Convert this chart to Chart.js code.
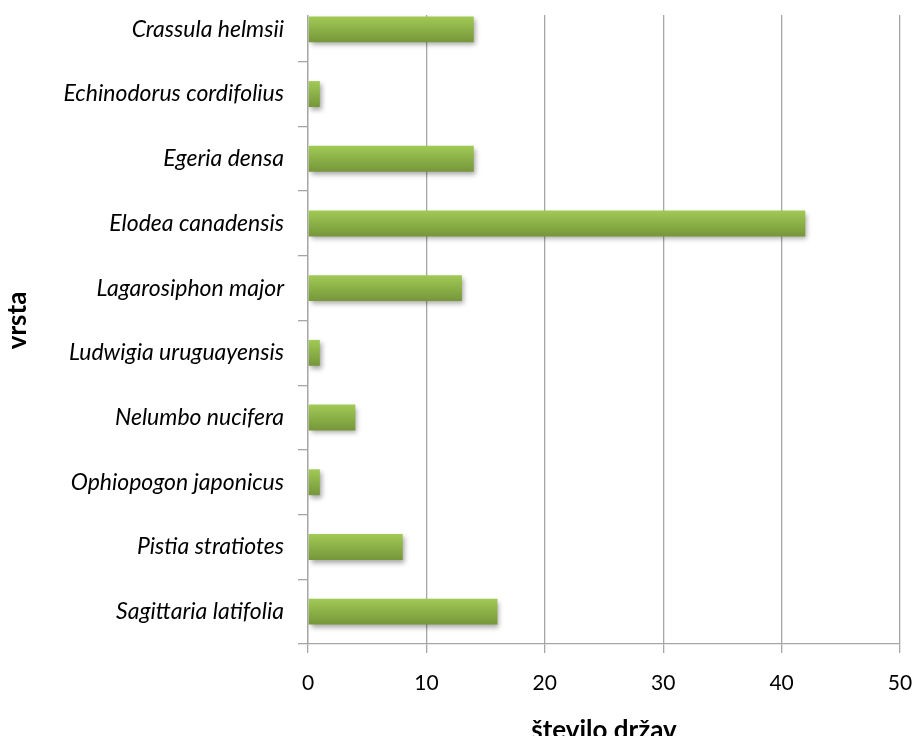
<!DOCTYPE html>
<html>
<head>
<meta charset="utf-8">
<script src="https://cdn.jsdelivr.net/npm/chart.js@4"></script>
<style>
  html, body { margin:0; padding:0; background:#fff; overflow:hidden; }
  #wrap { position:relative; width:914px; height:736px; overflow:hidden; }
  #box { position:absolute; left:0; top:-20px; width:914px; height:776px; }
</style>
</head>
<body>
<div id="wrap"><div id="box"><canvas id="c"></canvas></div></div>
<script>
const categories = [
  "Crassula helmsii", "Echinodorus cordifolius", "Egeria densa", "Elodea canadensis",
  "Lagarosiphon major", "Ludwigia uruguayensis", "Nelumbo nucifera", "Ophiopogon japonicus",
  "Pistia stratiotes", "Sagittaria latifolia"
];
const countries = [14, 1, 14, 42, 13, 1, 4, 1, 8, 16];
const xTicks = [0, 10, 20, 30, 40, 50];
const xTitle = "število držav";
const yTitle = "vrsta";

const FONT = "Lato, 'Open Sans', sans-serif";

const topCover = {
  id: 'topCover',
  beforeDatasetsDraw(chart) {
    const ctx = chart.ctx, a = chart.chartArea;
    ctx.save();
    ctx.fillStyle = '#fff';
    ctx.fillRect(a.left - 2, 0, a.right - a.left + 4, 35);
    ctx.restore();
    ctx.save();
    ctx.shadowColor = 'rgba(0,0,0,0.35)';
    ctx.shadowBlur = 5;
    ctx.shadowOffsetX = 2;
    ctx.shadowOffsetY = 3;
  },
  afterDatasetsDraw(chart) {
    chart.ctx.restore();
  }
};

new Chart(document.getElementById('c'), {
  type: 'bar',
  data: {
    labels: categories,
    datasets: [{
      data: countries,
      barPercentage: 0.4,
      categoryPercentage: 1.0,
      borderWidth: 0,
      backgroundColor: (c) => {
        const chart = c.chart, ys = chart.scales && chart.scales.y;
        if (!ys || c.type !== 'data' || !isFinite(ys.getPixelForValue(c.dataIndex))) return '#8cb446';
        const m = ys.getPixelForValue(c.dataIndex);
        const g = chart.ctx.createLinearGradient(0, m - 13, 0, m + 13);
        g.addColorStop(0, '#a1ca55');
        g.addColorStop(1, '#76963a');
        return g;
      }
    }]
  },
  options: {
    indexAxis: 'y',
    responsive: true,
    maintainAspectRatio: false,
    animation: false,
    layout: { padding: { top: 17, right: 14, left: 0, bottom: 0 } },
    plugins: { legend: { display: false }, tooltip: { enabled: false } },
    scales: {
      x: {
        min: 0, max: 50,
        afterBuildTicks: (s) => { s.ticks = xTicks.map(v => ({ value: v })); },
        afterFit: (s) => { s.height = 112; s.paddingLeft = 0; s.paddingRight = 0; },
        grid: { color: '#a6a6a6', lineWidth: 1.3, tickLength: 9, drawTicks: true },
        border: { color: '#a6a6a6', width: 1.3 },
        ticks: { color: '#000', padding: 18, font: { family: FONT, size: 21 } },
        title: {
          display: true, text: xTitle, color: '#000',
          padding: { top: 19, bottom: 10 },
          font: { family: FONT, size: 26, weight: 'bold' }
        }
      },
      y: {
        afterFit: (s) => { s.width = 308; s.paddingTop = 0; s.paddingBottom = 0; },
        grid: { drawOnChartArea: false, offset: true, color: '#a6a6a6', lineWidth: 1.3, tickLength: 10 },
        border: { color: '#a6a6a6', width: 1.3 },
        ticks: { color: '#000', padding: 14, font: { family: FONT, size: 23, style: 'italic' } },
        title: {
          display: true, text: yTitle, color: '#000',
          padding: { top: 2, bottom: 4 },
          font: { family: FONT, size: 26, weight: 'bold' }
        }
      }
    }
  },
  plugins: [topCover]
});
</script>
</body>
</html>
